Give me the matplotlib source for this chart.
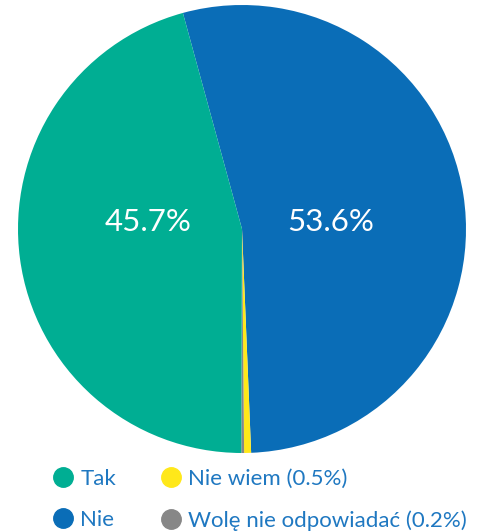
import matplotlib
matplotlib.use("Agg")
import matplotlib.pyplot as plt
from matplotlib.lines import Line2D

plt.rcParams['font.family'] = ['Lato', 'DejaVu Sans']

# data, in drawing order (clockwise from top)
labels = ["Nie", "Nie wiem", "Wolę nie odpowiadać", "Tak"]
values = [53.6, 0.5, 0.2, 45.7]
colors = ["#0A6DB7", "#FFE81A", "#878787", "#00AE93"]

legend_labels = ["Tak", "Nie", "Nie wiem (0.5%)", "Wolę nie odpowiadać (0.2%)"]
legend_colors = ["#00AE93", "#0A6DB7", "#FFE81A", "#878787"]
text_color = "#1F78C1"

W, H = 478, 531
fig = plt.figure(figsize=(W / 100, H / 100), dpi=100)
# pie center ~ (242, 229) px, radius ~224 px
ax = fig.add_axes([18 / W, (H - 453) / H, 448 / W, 448 / H])
wedges, _ = ax.pie(values, colors=colors, startangle=105.3, counterclock=False,
                   radius=1.0, wedgeprops=dict(linewidth=0))
ax.set_xlim(-1, 1)
ax.set_ylim(-1, 1)
ax.set_aspect('equal')
ax.axis('off')

# big percentage labels for main slices
ax.text(-0.42, 0.03, "45.7%", color="white", fontsize=22.5, ha="center", va="center")
ax.text(0.395, 0.03, "53.6%", color="white", fontsize=22.5, ha="center", va="center")

handles = [Line2D([0], [0], marker='o', linestyle='none', markersize=14,
                  markerfacecolor=c, markeredgecolor=c) for c in legend_colors]
leg = fig.legend(handles, legend_labels, ncol=2, loc="upper left",
                 bbox_to_anchor=(37 / W, 1 - 458 / H), frameon=False,
                 fontsize=16, handletextpad=0.15, columnspacing=1.8,
                 labelspacing=0.95, handlelength=1.3, borderpad=0)
for t in leg.get_texts():
    t.set_color(text_color)

fig.savefig("out.png", dpi=100)
